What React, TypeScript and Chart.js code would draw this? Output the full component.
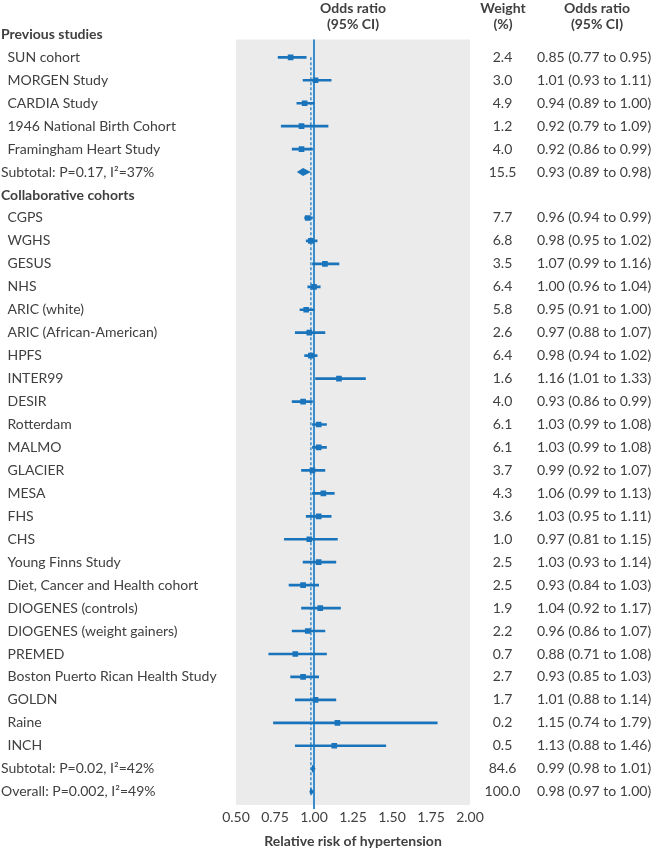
import React, { useEffect, useRef } from 'react';
import { Chart, registerables } from 'chart.js';

Chart.register(...registerables);

// ---- data ----
const rowLabels: string[] = [
  'Previous studies',
  'SUN cohort',
  'MORGEN Study',
  'CARDIA Study',
  '1946 National Birth Cohort',
  'Framingham Heart Study',
  'Subtotal: P=0.17, I²=37%',
  'Collaborative cohorts',
  'CGPS',
  'WGHS',
  'GESUS',
  'NHS',
  'ARIC (white)',
  'ARIC (African-American)',
  'HPFS',
  'INTER99',
  'DESIR',
  'Rotterdam',
  'MALMO',
  'GLACIER',
  'MESA',
  'FHS',
  'CHS',
  'Young Finns Study',
  'Diet, Cancer and Health cohort',
  'DIOGENES (controls)',
  'DIOGENES (weight gainers)',
  'PREMED',
  'Boston Puerto Rican Health Study',
  'GOLDN',
  'Raine',
  'INCH',
  'Subtotal: P=0.02, I²=42%',
  'Overall: P=0.002, I²=49%',
];

// h = group header, s = study, d = pooled estimate (diamond)
const rowTypes: string[] = [
  'h', 's', 's', 's', 's', 's', 'd',
  'h', 's', 's', 's', 's', 's', 's', 's', 's', 's', 's', 's', 's', 's', 's', 's', 's', 's', 's', 's', 's', 's', 's', 's', 's',
  'd', 'd',
];

const weights: (number | null)[] = [
  null, 2.4, 3.0, 4.9, 1.2, 4.0, 15.5,
  null, 7.7, 6.8, 3.5, 6.4, 5.8, 2.6, 6.4, 1.6, 4.0, 6.1, 6.1, 3.7, 4.3, 3.6, 1.0, 2.5, 2.5, 1.9, 2.2, 0.7, 2.7, 1.7, 0.2, 0.5,
  84.6, 100.0,
];

const oddsRatios: (number | null)[] = [
  null, 0.85, 1.01, 0.94, 0.92, 0.92, 0.93,
  null, 0.96, 0.98, 1.07, 1.0, 0.95, 0.97, 0.98, 1.16, 0.93, 1.03, 1.03, 0.99, 1.06, 1.03, 0.97, 1.03, 0.93, 1.04, 0.96, 0.88, 0.93, 1.01, 1.15, 1.13,
  0.99, 0.98,
];

const lowerCI: (number | null)[] = [
  null, 0.77, 0.93, 0.89, 0.79, 0.86, 0.89,
  null, 0.94, 0.95, 0.99, 0.96, 0.91, 0.88, 0.94, 1.01, 0.86, 0.99, 0.99, 0.92, 0.99, 0.95, 0.81, 0.93, 0.84, 0.92, 0.86, 0.71, 0.85, 0.88, 0.74, 0.88,
  0.98, 0.97,
];

const upperCI: (number | null)[] = [
  null, 0.95, 1.11, 1.0, 1.09, 0.99, 0.98,
  null, 0.99, 1.02, 1.16, 1.04, 1.0, 1.07, 1.02, 1.33, 0.99, 1.08, 1.08, 1.07, 1.13, 1.11, 1.15, 1.14, 1.03, 1.17, 1.07, 1.08, 1.03, 1.14, 1.79, 1.46,
  1.01, 1.0,
];

const xTicks: number[] = [0.5, 0.75, 1.0, 1.25, 1.5, 1.75, 2.0];
const nullValue = 1.0;
const xAxisTitle = 'Relative risk of hypertension';

// ---- styles ----
const BLUE = '#1a74bb';
const LINE_BLUE = '#3a8dcc';
const GRAY = '#ebebeb';
const TEXT = '#404040';
const FONT = 'Lato, "Open Sans", sans-serif';
const W = 657;
const H = 850;

const forestPlugin = {
  id: 'forest',
  beforeDraw(chart: any) {
    const { ctx, chartArea } = chart;
    ctx.save();
    ctx.fillStyle = GRAY;
    ctx.fillRect(chartArea.left, chartArea.top, chartArea.right - chartArea.left, chartArea.bottom - chartArea.top);
    ctx.restore();
  },
  beforeDatasetsDraw(chart: any) {
    const { ctx, chartArea, scales } = chart;
    const xs = scales.x;
    const ys = scales.y;
    ctx.save();
    const x1 = xs.getPixelForValue(nullValue);
    ctx.strokeStyle = LINE_BLUE;
    ctx.lineWidth = 2;
    ctx.beginPath();
    ctx.moveTo(x1, chartArea.top);
    ctx.lineTo(x1, chartArea.bottom + 4);
    ctx.stroke();
    const last = rowLabels.length - 1;
    const xo = xs.getPixelForValue(oddsRatios[last] as number);
    ctx.setLineDash([3, 2]);
    ctx.lineWidth = 1.5;
    ctx.beginPath();
    ctx.moveTo(xo, ys.getPixelForValue(1));
    ctx.lineTo(xo, ys.getPixelForValue(last));
    ctx.stroke();
    ctx.restore();
  },
  afterDatasetsDraw(chart: any) {
    const { ctx, scales } = chart;
    const xs = scales.x;
    const ys = scales.y;
    ctx.save();
    ctx.fillStyle = BLUE;
    rowTypes.forEach((t, i) => {
      if (t !== 'd') return;
      const y = ys.getPixelForValue(i);
      const xl = xs.getPixelForValue(lowerCI[i] as number);
      const xm = xs.getPixelForValue(oddsRatios[i] as number);
      const xr = xs.getPixelForValue(upperCI[i] as number);
      ctx.beginPath();
      ctx.moveTo(xl, y);
      ctx.lineTo(xm, y - 4);
      ctx.lineTo(xr, y);
      ctx.lineTo(xm, y + 4);
      ctx.closePath();
      ctx.fill();
    });
    ctx.restore();
  },
  afterDraw(chart: any) {
    const { ctx, chartArea, scales } = chart;
    const ys = scales.y;
    const plotCenter = (chartArea.left + chartArea.right) / 2;
    ctx.save();
    ctx.fillStyle = TEXT;
    ctx.textBaseline = 'middle';
    ctx.font = `bold 14px ${FONT}`;
    ctx.textAlign = 'center';
    ctx.fillText('Odds ratio', plotCenter, 8);
    ctx.fillText('(95% CI)', plotCenter, 24);
    ctx.fillText('Weight', 503, 8);
    ctx.fillText('(%)', 503, 24);
    ctx.fillText('Odds ratio', 597, 8);
    ctx.fillText('(95% CI)', 597, 24);
    rowLabels.forEach((label, i) => {
      const y = ys.getPixelForValue(i);
      const t = rowTypes[i];
      ctx.textAlign = 'left';
      if (t === 'h') {
        ctx.font = `bold 14px ${FONT}`;
        ctx.fillText(label, 1, y);
        return;
      }
      ctx.font = `14px ${FONT}`;
      ctx.fillText(label, t === 's' ? 7.5 : 1, y);
      ctx.textAlign = 'center';
      ctx.fillText((weights[i] as number).toFixed(1), 502.5, y);
      ctx.textAlign = 'left';
      const txt = `${(oddsRatios[i] as number).toFixed(2)} (${(lowerCI[i] as number).toFixed(2)} to ${(upperCI[i] as number).toFixed(2)})`;
      ctx.fillText(txt, 537, y);
    });
    ctx.restore();
  },
};

export default function App() {
  const ref = useRef<HTMLCanvasElement | null>(null);
  useEffect(() => {
    if (!ref.current) return;
    const studyIdx = rowTypes.map((t, i) => (t === 's' ? i : -1)).filter((i) => i >= 0);
    const chart = new Chart(ref.current, {
      type: 'bar',
      data: {
        datasets: [
          {
            type: 'scatter',
            label: 'Odds ratio',
            data: studyIdx.map((i) => ({ x: oddsRatios[i] as number, y: i })),
            pointStyle: 'rect',
            pointRadius: 4,
            pointHoverRadius: 4,
            backgroundColor: BLUE,
            borderWidth: 0,
            xAxisID: 'x',
            yAxisID: 'y',
            order: 0,
          } as any,
          {
            type: 'bar',
            label: '95% CI',
            indexAxis: 'y',
            data: studyIdx.map((i) => ({ x: [lowerCI[i] as number, upperCI[i] as number], y: i })),
            backgroundColor: BLUE,
            borderWidth: 0,
            barThickness: 2,
            xAxisID: 'x',
            yAxisID: 'y',
            order: 1,
          } as any,
        ],
      },
      options: {
        animation: false,
        responsive: false,
        maintainAspectRatio: false,
        events: [],
        layout: { padding: { left: 236, right: 187, top: 39.5, bottom: 0 } },
        plugins: { legend: { display: false }, tooltip: { enabled: false } },
        scales: {
          x: {
            type: 'linear',
            position: 'bottom',
            offset: false,
            min: 0.5,
            max: 2.0,
            afterBuildTicks: (scale: any) => {
              scale.ticks = xTicks.map((v) => ({ value: v }));
            },
            afterFit: (scale: any) => {
              scale.height = 45;
            },
            grid: { display: false, drawTicks: false, offset: false },
            border: { display: false },
            ticks: {
              padding: 4,
              color: TEXT,
              font: { family: FONT, size: 14 },
              callback: (v: any) => Number(v).toFixed(2),
            },
            title: {
              display: true,
              text: xAxisTitle,
              color: TEXT,
              font: { family: FONT, size: 14, weight: 'bold' },
              padding: { top: 4, bottom: 0 },
            },
          },
          y: {
            type: 'linear',
            display: false,
            offset: false,
            grid: { offset: false },
            reverse: true,
            min: 0.224,
            max: 33.58,
          },
        },
      } as any,
      plugins: [forestPlugin],
    });
    return () => chart.destroy();
  }, []);
  return (
    <div style={{ position: 'absolute', left: 0, top: 0, width: W, height: H, background: '#fff' }}>
      <canvas ref={ref} width={W} height={H} style={{ display: 'block' }} />
    </div>
  );
}
